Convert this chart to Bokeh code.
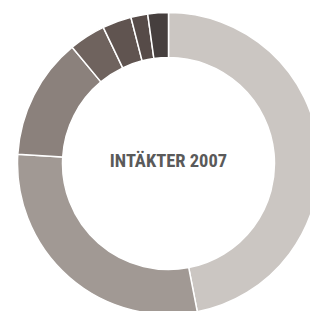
import math
from bokeh.plotting import figure
from bokeh.models import ColumnDataSource
from bokeh.core.properties import value
from bokeh.embed import file_html
from bokeh.resources import INLINE

categories = ["Del 1", "Del 2", "Del 3", "Del 4", "Del 5", "Del 6", "Del 7"]
shares = [46.9, 29.0, 13.0, 3.9, 3.1, 1.8, 2.2]
colors = ["#cbc6c2", "#a19994", "#8b817c", "#6f635e", "#605450", "#564b48", "#463f3e"]
title_text = "INTÄKTER 2007"

total = sum(shares)
starts, ends = [], []
acc = 0.0
for s in shares:
    t1 = acc / total * 2 * math.pi
    acc += s
    t2 = acc / total * 2 * math.pi
    # clockwise from top -> bokeh angles (counterclockwise from +x)
    starts.append(math.pi / 2 - t2)
    ends.append(math.pi / 2 - t1)

src = ColumnDataSource(dict(cat=categories, share=shares, color=colors,
                            start=starts, end=ends))

W, H = 310, 311
p = figure(width=W, height=H, x_range=(-168, 142), y_range=(-148, 163),
           output_backend="svg", toolbar_location=None, min_border=0)
p.axis.visible = False
p.grid.visible = False
p.outline_line_color = None
p.background_fill_color = "white"
p.border_fill_color = "white"

p.annular_wedge(x=0, y=0, inner_radius=106, outer_radius=151,
                start_angle="start", end_angle="end", color="color",
                line_color="white", line_width=1.5, source=src)

p.text(x=[0], y=[2.5], text=[title_text],
       text_font=value("'Roboto Condensed', 'DejaVu Sans Condensed', 'Liberation Sans Narrow', 'Liberation Serif'"),
       text_font_style="bold", text_font_size="18.5px", text_color="#5a5a5a",
       text_align="center", text_baseline="middle")

open("out.html", "w").write(file_html(p, INLINE))
